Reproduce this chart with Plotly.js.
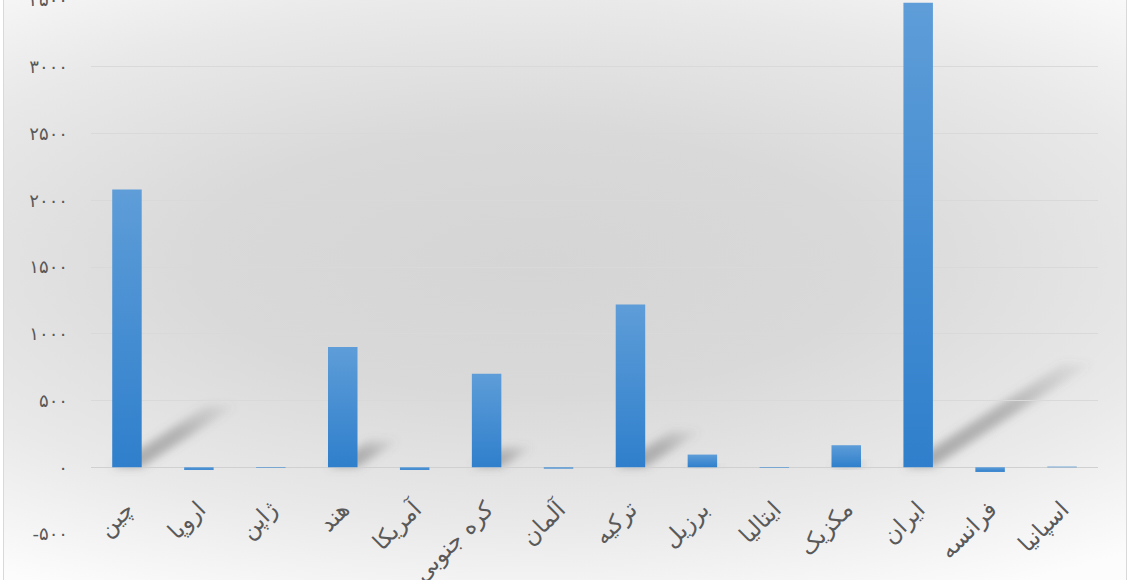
<!DOCTYPE html>
<html>
<head>
<meta charset="utf-8">
<script src="https://cdn.plot.ly/plotly-3.0.1.min.js"></script>
<style>
  html, body { margin: 0; padding: 0; width: 1130px; height: 580px; overflow: hidden; background: #ffffff; }
  #frame {
    position: absolute; left: 3px; top: -2px; width: 1122px; height: 600px;
    border: 1px solid #d9d9d9;
    background: radial-gradient(ellipse 85% 62% at 47% 44%, #d5d5d5 0%, #d9d9d9 35%, #e9e9e9 70%, #fcfcfc 100%);
  }
  #chart { position: absolute; left: 0; top: -20px; width: 1130px; height: 620px; }
</style>
</head>
<body>
<div id="frame"></div>
<div id="chart"></div>
<script>
// Countries along the category axis
const countries = ['چین', 'اروپا', 'ژاپن', 'هند', 'آمریکا', 'کره جنوبی', 'آلمان',
                   'ترکیه', 'برزیل', 'ایتالیا', 'مکزیک', 'ایران', 'فرانسه', 'اسپانیا'];
// Value per country
const values = [2080, -20, -5, 900, -20, 700, -10, 1220, 95, -5, 165, 3480, -35, 5];
// Value axis ticks (Persian digits)
const yTickVals = [-500, 0, 500, 1000, 1500, 2000, 2500, 3000, 3500];
const yTickText = ['-۵۰۰', '۰', '۵۰۰', '۱۰۰۰', '۱۵۰۰', '۲۰۰۰', '۲۵۰۰', '۳۰۰۰', '۳۵۰۰'];

const halfBar = 0.205;        // half bar width in category units
const shadowRun = 0.000635;   // horizontal reach of a bar's cast shadow per unit of value
const shadowRise = 0.223;     // vertical reach of the cast shadow as a share of the value

// Soft perspective shadows cast by the positive bars
const shadows = [];
values.forEach(function (v, i) {
  if (v <= 0) return;
  const dx = v * shadowRun, dy = v * shadowRise;
  const x0 = i - halfBar, x1 = i + halfBar;
  shadows.push({
    type: 'path', xref: 'x', yref: 'y', layer: 'below',
    path: 'M ' + x0 + ',0 L ' + x1 + ',0 L ' + (x1 + dx) + ',' + dy +
          ' L ' + (x0 + dx) + ',' + dy + ' Z',
    fillcolor: 'rgba(80,80,80,0.35)', line: { width: 0 }
  });
});

const trace = {
  type: 'bar',
  x: countries,
  y: values,
  marker: { color: '#4189d1', line: { width: 0 } },
  hoverinfo: 'skip'
};

const font = 'DejaVu Sans, Noto Sans, sans-serif';

const layout = {
  width: 1130, height: 620,
  margin: { l: 91, r: 32, t: 20, b: 66 },
  paper_bgcolor: 'rgba(0,0,0,0)',
  plot_bgcolor: 'rgba(0,0,0,0)',
  bargap: 0.59,
  showlegend: false,
  hovermode: false,
  shapes: shadows,
  xaxis: {
    type: 'category',
    anchor: 'free', position: 0.125,
    showgrid: false, zeroline: false, showline: false, ticks: '',
    tickangle: -45,
    ticklabelstandoff: 23,
    tickfont: { family: font, size: 23, color: '#595959' }
  },
  yaxis: {
    range: [-500, 3500],
    tickvals: yTickVals, ticktext: yTickText,
    showgrid: true, gridcolor: '#d9d9d9', gridwidth: 1,
    zeroline: true, zerolinecolor: '#d0d0d0', zerolinewidth: 1,
    showline: false, ticks: '',
    ticklabelstandoff: 22,
    tickfont: { family: font, size: 18, color: '#595959' }
  }
};

Plotly.newPlot('chart', [trace], layout, { displayModeBar: false, staticPlot: true }).then(function (gd) {
  const svg = gd.querySelector('svg.main-svg');
  const ns = 'http://www.w3.org/2000/svg';
  let defs = svg.querySelector('defs');
  if (!defs) { defs = document.createElementNS(ns, 'defs'); svg.insertBefore(defs, svg.firstChild); }
  defs.insertAdjacentHTML('beforeend',
    '<linearGradient id="barFill" x1="0" y1="0" x2="0" y2="1">' +
      '<stop offset="0" stop-color="#5e9dd8"/><stop offset="1" stop-color="#2f7fcc"/>' +
    '</linearGradient>' +
    '<linearGradient id="shadowFill" x1="0" y1="1" x2="1" y2="0">' +
      '<stop offset="0" stop-color="#6a6a6a" stop-opacity="0.5"/>' +
      '<stop offset="0.55" stop-color="#6a6a6a" stop-opacity="0.4"/>' +
      '<stop offset="1" stop-color="#6a6a6a" stop-opacity="0.05"/>' +
    '</linearGradient>' +
    '<filter id="shadowBlur" x="-50%" y="-50%" width="200%" height="200%">' +
      '<feGaussianBlur stdDeviation="4"/>' +
    '</filter>');
  gd.querySelectorAll('.barlayer .point path').forEach(function (p) {
    p.style.fill = 'url(#barFill)';
  });
  gd.querySelectorAll('.shapelayer path').forEach(function (p) {
    p.style.fill = 'url(#shadowFill)';
    p.style.fillOpacity = 1;
    p.setAttribute('filter', 'url(#shadowBlur)');
  });
});
</script>
</body>
</html>
